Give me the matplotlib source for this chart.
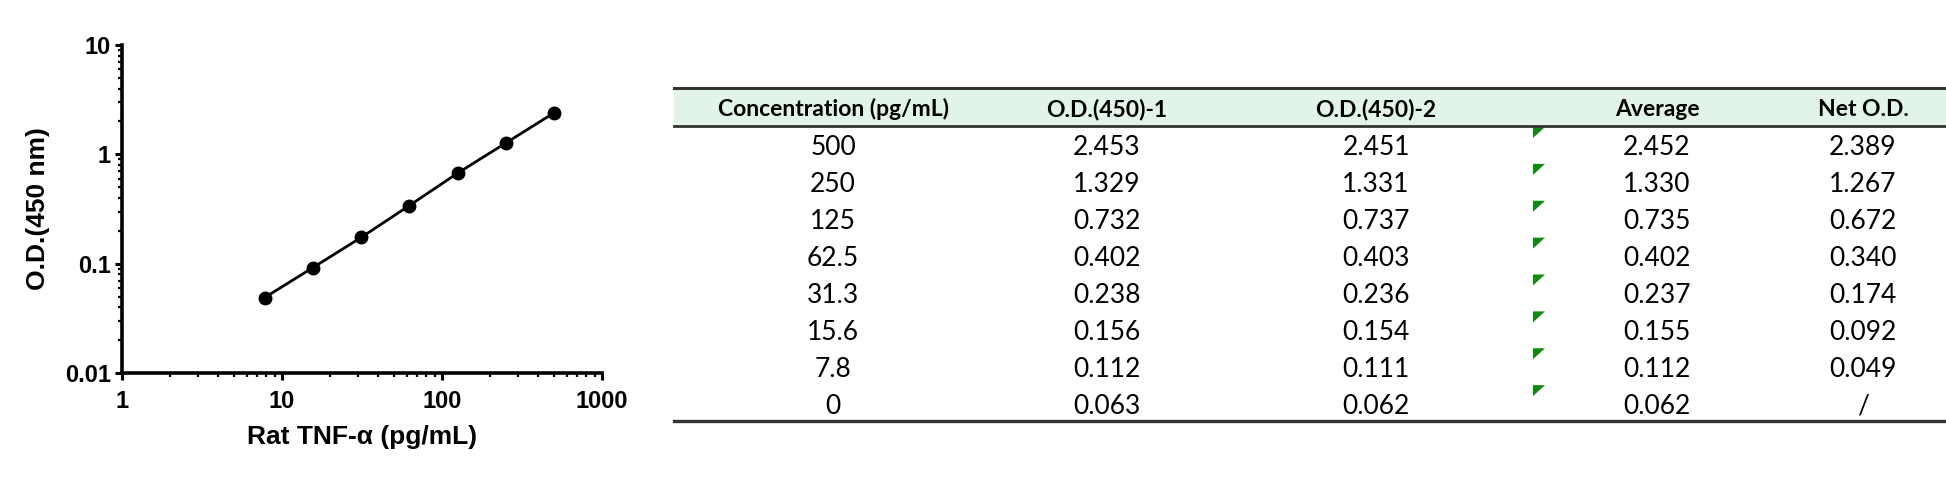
import matplotlib
matplotlib.use("Agg")
import matplotlib.pyplot as plt
from matplotlib.patches import Polygon, Rectangle
from matplotlib.lines import Line2D

# ---------------- data ----------------
concentration = [500, 250, 125, 62.5, 31.3, 15.6, 7.8, 0]
od1 = [2.453, 1.329, 0.732, 0.402, 0.238, 0.156, 0.112, 0.063]
od2 = [2.451, 1.331, 0.737, 0.403, 0.236, 0.154, 0.111, 0.062]
average = [2.452, 1.330, 0.735, 0.402, 0.237, 0.155, 0.112, 0.062]
net_od = [2.389, 1.267, 0.672, 0.340, 0.174, 0.092, 0.049, None]
headers = ["Concentration (pg/mL)", "O.D.(450)-1", "O.D.(450)-2", "Average", "Net O.D."]
xtick_vals = [1, 10, 100, 1000]
xtick_labels = ["1", "10", "100", "1000"]
ytick_vals = [0.01, 0.1, 1, 10]
ytick_labels = ["0.01", "0.1", "1", "10"]
xlabel = "Rat TNF-\u03b1 (pg/mL)"
ylabel = "O.D.(450 nm)"

W, H = 1946, 478
fig = plt.figure(figsize=(W / 100, H / 100), dpi=100)

# ---------------- chart ----------------
chart_font = "Liberation Sans"
ax = fig.add_axes([122 / W, (H - 373) / H, 480 / W, 328 / H])
curve_x = [c for c, n in zip(concentration, net_od) if n is not None and c > 0]
curve_y = [n for c, n in zip(concentration, net_od) if n is not None and c > 0]
ax.plot(curve_x, curve_y, "-o", color="black", lw=2.0, ms=9, clip_on=False)
ax.set_xscale("log")
ax.set_yscale("log")
ax.set_xlim(1, 1000)
ax.set_ylim(0.01, 10)
ax.set_xticks(xtick_vals)
ax.set_xticklabels(xtick_labels)
ax.set_yticks(ytick_vals)
ax.set_yticklabels(ytick_labels)
for s in ["top", "right"]:
    ax.spines[s].set_visible(False)
for s in ["left", "bottom"]:
    ax.spines[s].set_linewidth(2.6)
ax.tick_params(which="major", length=5, width=2.2, direction="out", pad=3)
ax.tick_params(axis="x", which="major", pad=7)
ax.tick_params(which="minor", length=3, width=1.6, direction="out")
for lab in ax.get_xticklabels() + ax.get_yticklabels():
    lab.set_fontfamily(chart_font)
    lab.set_fontweight("bold")
    lab.set_fontsize(17)
ax.set_xlabel(xlabel, fontfamily=chart_font, fontweight="bold", fontsize=19, labelpad=9)
ax.set_ylabel(ylabel, fontfamily=chart_font, fontweight="bold", fontsize=19, labelpad=11)

# ---------------- table ----------------
tax = fig.add_axes([0, 0, 1, 1])
tax.set_xlim(0, W)
tax.set_ylim(H, 0)
tax.axis("off")
tax.patch.set_visible(False)

tbl_left, tbl_right = 674, 1946
top_y, head_bot = 88, 126
row_h = (421 - head_bot) / len(concentration)
col_x = [833, 1107, 1376, 1657, 1863]
table_font = "Lato"

tax.add_patch(Rectangle((tbl_left, top_y), tbl_right - tbl_left, head_bot - top_y,
                        facecolor="#e2f4e8", edgecolor="none"))
line_col = "#333333"
tax.add_line(Line2D([tbl_left, tbl_right], [top_y, top_y], color=line_col, lw=2.2))
tax.add_line(Line2D([tbl_left, tbl_right], [head_bot, head_bot], color=line_col, lw=2.0))
bot_y = head_bot + row_h * len(concentration)
tax.add_line(Line2D([tbl_left, tbl_right], [bot_y, bot_y], color=line_col, lw=2.4))

for x, h in zip(col_x, headers):
    tax.text(x, (top_y + head_bot) / 2 + 9, h, ha="center", va="baseline",
             fontfamily=table_font, fontweight="bold", fontsize=16.5, color="black")

for i in range(len(concentration)):
    base = head_bot + row_h * (i + 0.5) + 11
    vals = [f"{concentration[i]:g}", f"{od1[i]:.3f}", f"{od2[i]:.3f}", f"{average[i]:.3f}",
            "/" if net_od[i] is None else f"{net_od[i]:.3f}"]
    for x, v in zip(col_x, vals):
        tax.text(x, base, v, ha="center", va="baseline", fontfamily=table_font,
                 fontsize=19, color="black")
    rt = head_bot + row_h * i + 1
    tax.add_patch(Polygon([(1533, rt), (1545, rt), (1533, rt + 11)], closed=True,
                          facecolor="#108a10", edgecolor="none"))

fig.savefig("out.png", dpi=100)
